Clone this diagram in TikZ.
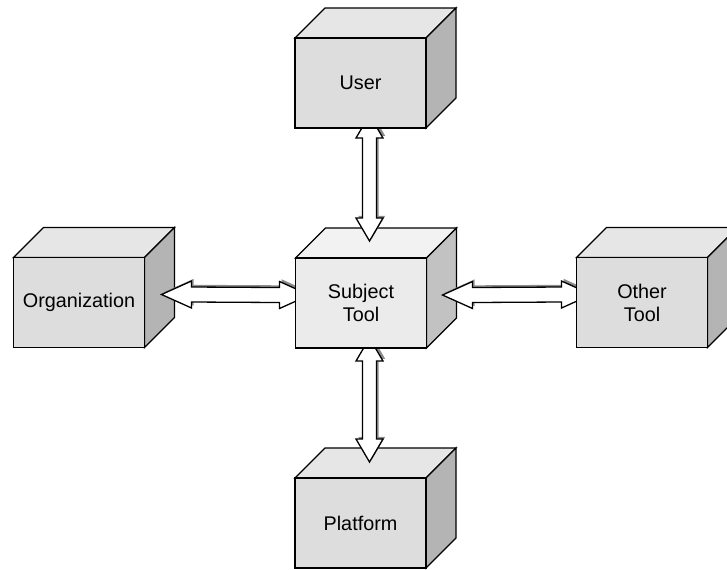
\documentclass[tikz,border=0pt]{standalone}
\usepackage{fontspec}
\setmainfont{Liberation Sans}
\usetikzlibrary{calc}
\usetikzlibrary{backgrounds}
\definecolor{boxfront}{HTML}{DDDDDD}
\definecolor{boxlid}{HTML}{E6E6E6}
\definecolor{boxflank}{HTML}{B4B4B4}
\definecolor{hubfront}{HTML}{EBEBEB}
\definecolor{hublid}{HTML}{F2F2F2}
\definecolor{hubflank}{HTML}{C2C2C2}
\definecolor{pipeshade}{HTML}{8C8C8C}
\pgfdeclarelayer{pipes}
\pgfsetlayers{background,pipes,main}
\tikzset{
  front/.style={draw, fill=#1front, line width=.65pt, minimum width=65.5pt,
    minimum height=45pt, inner sep=0pt, outer sep=0pt, align=center,
    font=\fontsize{9.9pt}{11.5pt}\selectfont},
  pipe/.style={draw, fill=white, line width=.65pt, line join=miter,
    preaction={draw=none, fill=pipeshade, transform canvas={xshift=1.1pt, yshift=1.1pt}}}
}
% lid and flank of a box
\newcommand\crate[2]{%
  \begin{pgfonlayer}{background}
    \draw[line width=.65pt, fill=#2lid] (#1.north west) -- ++(30,-30) -- ++(131,0) -- (#1.north east) -- cycle;
    \draw[line width=.65pt, fill=#2flank] (#1.north east) -- ++(30,-30) -- ++(0,90) -- (#1.south east) -- cycle;
  \end{pgfonlayer}}
% two-headed block arrows
\newcommand\vpipe[2]{%
  \begin{pgfonlayer}{pipes}
    \draw[pipe] (#1) -- ++(13.5,23) -- ++(-6.5,0) -- ($(#2)+(7,-23)$) -- ++(6.5,0) -- (#2)
      -- ++(-13.5,-23) -- ++(6.5,0) -- ($(#1)+(-7,23)$) -- ++(-6.5,0) -- cycle;
  \end{pgfonlayer}}
\newcommand\hpipe[2]{%
  \begin{pgfonlayer}{pipes}
    \draw[pipe] (#1) -- ++(30,-13.5) -- ++(0,6) -- ($(#2)+(-30,-7.5)$) -- ++(0,-6) -- (#2)
      -- ++(-30,13.5) -- ++(0,-6) -- ($(#1)+(30,7.5)$) -- ++(0,6) -- cycle;
  \end{pgfonlayer}}

\begin{document}
\begin{tikzpicture}[x=.5pt, y=-.5pt]
  \useasboundingbox (0,0) rectangle (727,569);
  % boxes
  \node[front=hub] (subj) at (361,303) {Subject\\Tool};
  \node[front=box] (user) at (360.5,83) {User};
  \node[front=box] (org) at (79,302.5) {Organization};
  \node[front=box] (other) at (642,302.5) {Other\\Tool};
  \node[front=box] (plat) at (360.5,523) {Platform};
  \crate{subj}{hub}
  \crate{user}{box}
  \crate{org}{box}
  \crate{other}{box}
  \crate{plat}{box}
  % arrow ends
  \coordinate (u1) at ($(user.south)+(9,-13)$);
  \coordinate (u2) at ($(subj.north)+(8.5,-17)$);
  \coordinate (p1) at ($(subj.south)+(8.5,-10)$);
  \coordinate (p2) at ($(plat.north)+(9,-16)$);
  \coordinate (o1) at ($(org.east)+(17,-8)$);
  \coordinate (o2) at ($(subj.west)+(14,-8)$);
  \coordinate (t1) at ($(subj.east)+(16,-8)$);
  \coordinate (t2) at ($(other.west)+(15,-8)$);
  % arrows
  \vpipe{u1}{u2}
  \vpipe{p1}{p2}
  \hpipe{o1}{o2}
  \hpipe{t1}{t2}
\end{tikzpicture}
\end{document}
